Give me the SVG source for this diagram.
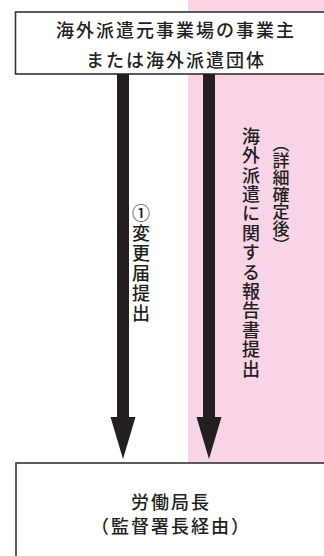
<svg xmlns="http://www.w3.org/2000/svg" width="324" height="556" viewBox="0 0 324 556">
<style>
.box{fill:#fff;stroke:#333;stroke-width:1.6}
.t{font-family:"Noto Sans CJK JP","Noto Sans CJK SC",sans-serif;font-size:18px;font-weight:500;fill:#231f20;letter-spacing:2px;text-anchor:middle}
.v{font-family:"Noto Sans CJK JP","Noto Sans CJK SC",sans-serif;font-size:18px;font-weight:500;fill:#231f20;writing-mode:vertical-rl;text-orientation:upright}
.shaft{fill:#231f20}
</style>
<rect id="band" x="188" y="0" width="136" height="463" fill="#f9d3e6"/>
<g id="employer">
<rect class="box" x="15.5" y="12" width="330" height="62"/>
<text class="t" x="176" y="37">海外派遣元事業場の事業主</text>
<text class="t" x="176" y="67">または海外派遣団体</text>
</g>
<g id="labour-bureau">
<rect class="box" x="16" y="463" width="330" height="110"/>
<text class="t" x="171" y="509">労働局長</text>
<text class="t" x="171" y="533">（監督署長経由）</text>
</g>
<g id="connectors">
<rect class="shaft" x="117" y="74" width="12" height="344"/>
<polygon class="shaft" points="110.5,417 135.5,417 123,459"/>
<rect class="shaft" x="203" y="74" width="12" height="344"/>
<polygon class="shaft" points="196.5,417 221.5,417 209,459"/>
</g>
<g id="labels">
<text class="v" x="141" y="204" style="letter-spacing:2px">①変更届提出</text>
<text class="v" x="251" y="127" style="letter-spacing:1.4px">海外派遣に関する報告書提出</text>
<text class="v" x="281" y="135" style="font-size:17px;letter-spacing:0px">（詳細確定後）</text>
</g>
</svg>
